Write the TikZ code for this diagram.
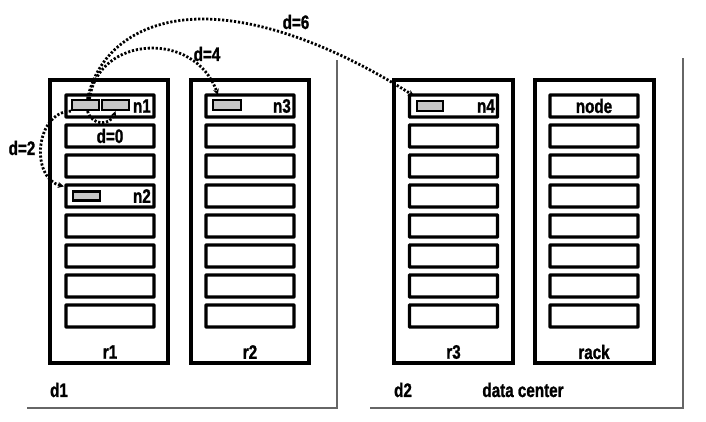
\documentclass[tikz,border=0pt]{standalone}
\usepackage{fontspec}
\newfontfamily\lblfont{Liberation Sans Bold}[FakeStretch=0.78,FakeBold=1.2]
\usetikzlibrary{arrows.meta}
\begin{document}
\begin{tikzpicture}[x=1pt,y=-1pt,
  rackbox/.style={draw,line width=3.4pt,minimum width=118pt,minimum height=283pt,inner sep=0pt},
  slotbox/.style={draw,line width=3.4pt,minimum width=88pt,minimum height=22pt,inner sep=0pt,rounded corners=0.5pt},
  blk/.style={draw,line width=2.2pt,fill=black!22,inner sep=0pt,minimum width=27pt,minimum height=10pt},
  lbl/.style={font=\fontsize{19.5}{21}\lblfont,inner sep=0pt},
  hop/.style={line width=2.8pt,dash pattern=on 2.2pt off 1.8pt,-{Stealth[length=6pt,width=6pt]}},
  dcedge/.style={draw=black!60,line width=1.4pt}]
\useasboundingbox (0,0) rectangle (706,421);
% data centre outlines
\draw[dcedge] (27,408) -- (337,408) -- (337,60);
\draw[dcedge] (370,408) -- (683,408) -- (683,58);
% racks
\node[rackbox] (r1) at (109,221.5) {};
\node[rackbox] (r2) at (250,221.5) {};
\node[rackbox,minimum width=119pt] (r3) at (453.5,221.5) {};
\node[rackbox,minimum width=119pt] (r4) at (594.5,221.5) {};
% slots
\foreach \r/\x in {a/110,b/250,c/453.5,d/594}{
  \foreach \i/\y in {1/106,2/136,3/166,4/196,5/226,6/256,7/286,8/316}{
    \node[slotbox] (\r\i) at (\x,\y) {};
  }
}
% rack labels
\node[lbl] (t1) at (110,352) {r1};
\node[lbl] (t2) at (250,352) {r2};
\node[lbl] (t3) at (453.5,352) {r3};
\node[lbl] (t4) at (594,352) {rack};
% data centre labels
\node[lbl] (dd1) at (59,390) {d1};
\node[lbl] (dd2) at (403,390) {d2};
\node[lbl] (dcl) at (523,390) {data center};
% node labels
\node[lbl,anchor=east] (ln1) at (151,106) {n1};
\node[lbl,anchor=east] (ln2) at (151,196) {n2};
\node[lbl,anchor=east] (ln3) at (291,106) {n3};
\node[lbl,anchor=east] (ln4) at (495,106) {n4};
\node[lbl] (ld0) at (110,136) {d=0};
\node[lbl] (lnode) at (594,106) {node};
% blocks
\node[blk] (s1) at (85.5,105) {};
\node[blk] (s2) at (115.5,105) {};
\node[blk,minimum height=9pt] (b2) at (86.5,196) {};
\node[blk,minimum width=28pt] (b3) at (227,105) {};
\node[blk,minimum width=26pt] (b4) at (430,106) {};
% hop labels
\node[lbl] (h6) at (296,22) {d=6};
\node[lbl] (h4) at (207,54) {d=4};
\node[lbl] (h2) at (22,148) {d=2};
% hops
\draw[hop] ([xshift=2pt]s1.north) .. controls (98,50) and (140,20) .. (200,19)
  .. controls (290,18) and (389,80) .. ([shift={(-2,-4)}]b4.north west);
\draw[hop] ([xshift=4pt]s1.north) .. controls (98,35) and (195,30) .. ([shift={(6,-4)}]b3.north west);
\draw[hop] (s1.south west) .. controls (35,112) and (30,178) .. ([shift={(-8,-4)}]b2.north west);
\draw[hop] ([xshift=2pt]s1.south) .. controls (92,126) and (110,126) .. (s2.south);
\end{tikzpicture}
\end{document}
